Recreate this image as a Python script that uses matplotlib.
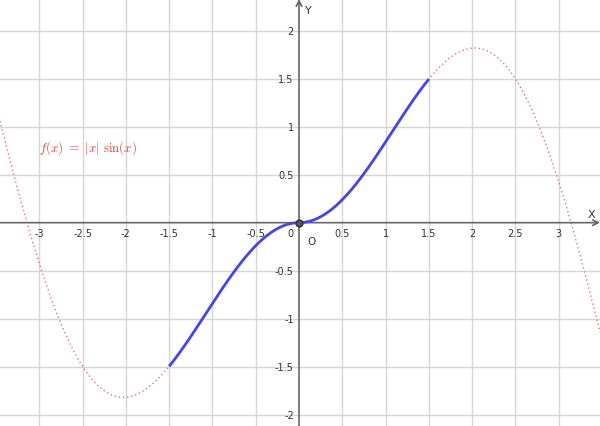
import numpy as np
import matplotlib
matplotlib.use("Agg")
import matplotlib.pyplot as plt

# view window and domains
x_view = [-3.453, 3.476]
y_view = [-2.118, 2.33]
full_domain = [-3.453, 3.476]
restricted_domain = [-1.5, 1.5]
x_ticks = [-3, -2.5, -2, -1.5, -1, -0.5, 0.5, 1, 1.5, 2, 2.5, 3]
y_ticks = [-2, -1.5, -1, -0.5, 0.5, 1, 1.5, 2]
label_text = r"$f(x)\ =\ |x|\ \sin(x)$"

def f(x):
    return np.abs(x) * np.sin(x)

plt.rcParams["mathtext.fontset"] = "cm"
fig = plt.figure(figsize=(6, 4.27), dpi=100)
ax = fig.add_axes([0, 0, 1, 1])
ax.set_xlim(*x_view)
ax.set_ylim(*y_view)
ax.axis("off")

grid_c = "#d6d6d6"
for gx in x_ticks:
    ax.axvline(gx, color=grid_c, lw=1, zorder=0)
for gy in y_ticks:
    ax.axhline(gy, color=grid_c, lw=1, zorder=0)

axis_c = "#666666"
ax.annotate("", xy=(x_view[1], 0), xytext=(x_view[0], 0),
            arrowprops=dict(arrowstyle="->", color=axis_c, lw=1.2, shrinkA=0, shrinkB=0), zorder=1)
ax.annotate("", xy=(0, y_view[1]), xytext=(0, y_view[0]),
            arrowprops=dict(arrowstyle="->", color=axis_c, lw=1.2, shrinkA=0, shrinkB=0), zorder=1)

lab_c = "#333333"
for t in x_ticks:
    ax.text(t, -0.06, f"{t:g}", ha="center", va="top", fontsize=7, color=lab_c)
for t in y_ticks:
    ax.text(-0.06, t, f"{t:g}", ha="right", va="center", fontsize=7, color=lab_c)
ax.text(-0.06, -0.06, "0", ha="right", va="top", fontsize=7, color=lab_c)
ax.text(0.1, -0.14, "O", ha="left", va="top", fontsize=7.5, color=lab_c)
ax.text(3.42, 0.04, "X", ha="right", va="bottom", fontsize=8, color=lab_c)
ax.text(0.07, 2.27, "Y", ha="left", va="top", fontsize=8, color=lab_c)

xs = np.linspace(full_domain[0], full_domain[1], 800)
ax.plot(xs, f(xs), color="#e05050", lw=1, ls=(0, (1, 2)), alpha=0.8, zorder=2)
xr = np.linspace(restricted_domain[0], restricted_domain[1], 400)
ax.plot(xr, f(xr), color="#4444ee", lw=2, zorder=3, solid_capstyle="butt")
ax.plot([0], [f(0)], "o", ms=5, color="#555555", mec="#333333", zorder=4)

ax.text(-3.0, 0.79, label_text, color="#e04040", fontsize=9.3, ha="left", va="center")

fig.savefig("out.png", dpi=100)
